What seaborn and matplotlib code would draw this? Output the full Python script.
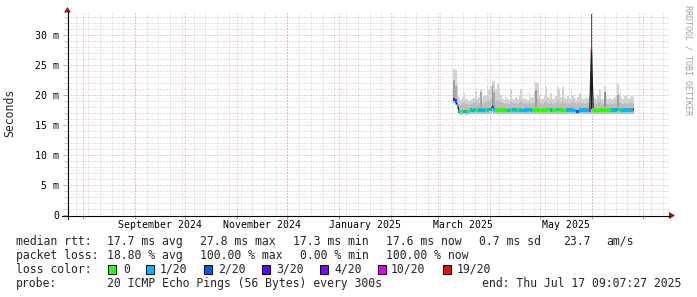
import datetime as dt
import numpy as np
import pandas as pd
import matplotlib
matplotlib.use("Agg")
import matplotlib.pyplot as plt
import matplotlib.dates as mdates
from matplotlib.lines import Line2D
from matplotlib.patches import Rectangle, Polygon
import seaborn as sns

# ---------------- data ----------------
start_day = "2025-03-10"
median_ms = [19.3, 19.0, 18.3, 17.25, 17.2, 17.2, 17.25, 17.2, 17.2, 17.25,
             17.5, 17.45, 17.5, 17.5, 17.45, 17.5, 17.5, 17.45, 17.5, 17.5,
             17.5, 17.55, 17.6, 18.1, 17.6, 17.5, 17.5, 17.45, 17.5, 17.5,
             17.5, 17.5, 17.45, 17.5, 17.5, 17.5, 17.55, 17.5, 17.5, 17.5,
             17.5, 17.45, 17.5, 17.5, 17.5, 17.55, 17.5, 17.5, 17.5, 17.5,
             17.5, 17.5, 17.45, 17.5, 17.5, 17.5, 17.55, 17.5, 17.5, 17.5,
             17.5, 17.5, 17.55, 17.5, 17.5, 17.5, 17.45, 17.5, 17.5, 17.5,
             17.5, 17.5, 17.45, 17.3, 17.3, 17.5, 17.5, 17.5, 17.5, 17.5,
             17.5, 17.5, 27.8, 17.5, 17.5, 17.5, 17.45, 17.5, 17.5, 17.5,
             17.5, 17.5, 17.5, 17.5, 17.5, 17.5, 17.5, 17.5, 17.55, 17.5,
             17.5, 17.5, 17.5, 17.5, 17.5, 17.5, 17.5, 17.6]
loss_level = [3, 2, 1, 1, 0, 0, 1, 1, 0, 0,
              1, 1, 1, 0, 0, 1, 1, 1, 1, 0,
              1, 1, 1, 2, 1, 0, 0, 0, 0, 0,
              0, 0, 1, 1, 0, 1, 1, 1, 0, 1,
              1, 1, 1, 1, 1, 1, 1, 0, 0, 0,
              0, 0, 0, 0, 0, 0, 0, 0, 1, 0,
              0, 0, 1, 0, 0, 0, 0, 1, 1, 1,
              1, 1, 1, 2, 2, 1, 1, 1, 1, 1,
              1, 5, 6, 0, 0, 0, 0, 0, 0, 0,
              0, 0, 0, 0, 1, 1, 1, 1, 1, 0,
              1, 1, 1, 1, 1, 1, 1, 6]
smoke_hi = [24.3, 24.2, 22.0, 19.6, 19.2, 19.5, 20.3, 19.3, 19.4, 19.0,
            19.2, 19.3, 19.5, 20.6, 19.4, 19.6, 21.0, 19.5, 19.8, 20.0,
            21.7, 21.0, 21.5, 22.4, 22.3, 21.0, 21.8, 21.2, 20.0, 19.4,
            19.2, 19.6, 19.3, 19.2, 20.8, 19.4, 19.2, 19.6, 19.3, 20.0,
            21.0, 19.5, 19.3, 19.4, 19.2, 20.3, 19.5, 19.6, 20.5, 22.2,
            22.0, 19.8, 19.4, 19.3, 20.0, 21.3, 19.6, 19.4, 20.3, 19.3,
            19.5, 19.8, 21.4, 21.0, 19.6, 21.3, 19.5, 19.3, 19.8, 19.4,
            20.9, 20.0, 19.5, 19.2, 19.6, 20.3, 19.3, 19.4, 19.3, 19.6,
            19.5, 19.8, 33.5, 19.6, 19.5, 19.4, 20.0, 20.8, 19.5, 19.4,
            21.5, 19.8, 19.3, 19.5, 19.2, 19.4, 19.6, 20.0, 21.8, 20.3,
            19.5, 19.3, 19.8, 19.9, 19.4, 19.5, 19.8, 19.6]
smoke_mid = [22.0, 21.5, 20.0, 18.5, 18.4, 18.6, 18.8, 18.5, 18.6, 18.4,
             18.5, 18.6, 18.7, 19.0, 18.6, 18.7, 19.2, 18.6, 18.7, 18.8,
             19.2, 19.0, 19.3, 19.8, 19.6, 19.0, 19.2, 19.0, 18.8, 18.6,
             18.5, 18.6, 18.5, 18.5, 18.9, 18.6, 18.5, 18.7, 18.5, 18.8,
             19.0, 18.6, 18.5, 18.6, 18.5, 18.8, 18.6, 18.6, 18.9, 19.5,
             19.4, 18.7, 18.6, 18.5, 18.8, 19.0, 18.6, 18.5, 18.8, 18.5,
             18.6, 18.7, 19.1, 18.9, 18.6, 19.0, 18.6, 18.5, 18.7, 18.5,
             18.9, 18.8, 18.6, 18.5, 18.6, 18.8, 18.5, 18.6, 18.5, 18.6,
             18.6, 18.7, 30.0, 18.6, 18.6, 18.5, 18.8, 19.0, 18.6, 18.5,
             19.4, 18.7, 18.5, 18.6, 18.5, 18.5, 18.6, 18.8, 19.3, 18.9,
             18.6, 18.5, 18.7, 18.7, 18.5, 18.6, 18.7, 18.6]
smoke_lo = [18.6, 18.4, 17.6, 16.8, 16.7, 16.7, 16.8, 16.7, 16.7, 16.8,
            16.9, 16.9, 16.9, 16.9, 16.9, 16.9, 16.9, 16.9, 16.9, 16.9,
            16.9, 16.9, 16.9, 17.2, 16.9, 16.9, 16.9, 16.9, 16.9, 16.9,
            16.9, 16.9, 16.9, 16.9, 16.9, 16.9, 16.9, 16.9, 16.9, 16.9,
            16.9, 16.9, 16.9, 16.9, 16.9, 16.9, 16.9, 16.9, 16.9, 16.9,
            16.9, 16.9, 16.9, 16.9, 16.9, 16.9, 16.9, 16.9, 16.9, 16.9,
            16.9, 16.9, 16.9, 16.9, 16.9, 16.9, 16.9, 16.9, 16.9, 16.9,
            16.9, 16.9, 16.9, 16.8, 16.8, 16.9, 16.9, 16.9, 16.9, 16.9,
            16.9, 16.9, 16.9, 16.9, 16.9, 16.9, 16.9, 16.9, 16.9, 16.9,
            16.9, 16.9, 16.9, 16.9, 16.9, 16.9, 16.9, 16.9, 16.9, 16.9,
            16.9, 16.9, 16.9, 16.9, 16.9, 16.9, 16.9, 16.9]
# darker smoke streaks: day index, low, high
dark_day = [0, 1, 16, 23, 24, 49, 90, 98, 82, 82]
dark_lo = [19.4, 19.1, 18.0, 18.3, 18.0, 18.0, 18.0, 18.0, 17.6, 27.8]
dark_hi = [22.5, 21.5, 20.5, 21.5, 20.5, 20.8, 20.5, 20.0, 27.8, 33.5]

loss_labels = ["0", "1/20", "2/20", "3/20", "4/20", "10/20", "19/20"]
loss_colors = ["#26ff00", "#00b8ff", "#0059ff", "#5e00ff", "#7e00ff", "#dd00ff", "#ff0000"]

y_ticks = [0, 5, 10, 15, 20, 25, 30]
y_ticklabels = ["0", "5 m", "10 m", "15 m", "20 m", "25 m", "30 m"]
x_label_months = ["2024-09-01", "2024-11-01", "2025-01-01", "2025-03-01", "2025-05-01"]
x_ticklabels = ["September 2024", "November 2024", "January 2025", "March 2025", "May 2025"]

end_time = dt.datetime(2025, 7, 17, 9, 7, 27)
span_days = 360

# ---------------- figure ----------------
sns.set_theme(style="white")
plt.rcParams["font.family"] = ["DejaVu Sans Mono", "DejaVu Sans"]

W, H = 697, 297
fig = plt.figure(figsize=(W / 100, H / 100), dpi=100, facecolor="white")


def fx(x):
    return x / W


def fy(y):
    return 1 - y / H


ax = fig.add_axes([fx(67), fy(215), fx(670) - fx(67), fy(13) - fy(215)])
ax.set_facecolor("white")
for s in ax.spines.values():
    s.set_visible(False)

t1 = mdates.date2num(end_time)
t0 = t1 - span_days
ax.set_xlim(t0, t1)
ax.set_ylim(0, 33.67)

# grid
minor_col, major_col = "#c4c4c4", "#eaa0a0"
for d in pd.date_range("2024-07-28", "2025-07-17", freq="7D"):
    ax.axvline(mdates.date2num(d), color=minor_col, lw=0.72, ls=(0, (1, 2)), zorder=0)
for v in range(1, 34):
    if v % 5:
        ax.axhline(v, color=minor_col, lw=0.72, ls=(0, (1, 2)), zorder=0)
month_starts = pd.date_range("2024-08-01", "2025-07-01", freq="MS")
for d in month_starts:
    ax.axvline(mdates.date2num(d), color=major_col, lw=0.72, ls=(0, (1, 2)), zorder=1)
for v in y_ticks[1:]:
    ax.axhline(v, color=major_col, lw=0.72, ls=(0, (1, 2)), zorder=1)

# data
days = mdates.date2num(pd.date_range(start_day, periods=len(median_ms), freq="D"))
edges = np.append(days, days[-1] + 1)
lo = np.append(smoke_lo, smoke_lo[-1])
mid = np.append(smoke_mid, smoke_mid[-1])
hi = np.append(smoke_hi, smoke_hi[-1])
ax.fill_between(edges, lo, hi, step="post", color="#d2d2d2", lw=0, zorder=2)
ax.fill_between(edges, lo, mid, step="post", color="#bdbdbd", lw=0, zorder=3)

dark_shade = ["#a0a0a0", "#ababab", "#a6a6a6", "#969696", "#a6a6a6", "#9e9e9e",
              "#929292", "#a0a0a0", "#1c1c1c", "#555555"]
for i, d in enumerate(dark_day):
    ax.bar(days[d], dark_hi[i] - dark_lo[i], bottom=dark_lo[i], width=1, align="edge",
           color=dark_shade[i], lw=0, zorder=4)

sns.lineplot(x=days + 0.5, y=median_ms, color="#202020", lw=0.9, ax=ax, zorder=5)
med = np.array(median_ms)
ax.bar(days, 0.55, bottom=med - 0.275, width=1, align="edge",
       color=[loss_colors[k] for k in loss_level], lw=0, zorder=6)

# ticks
ax.set_yticks(y_ticks)
ax.set_yticklabels(y_ticklabels)
ax.set_yticks(range(0, 34), minor=True)
ax.tick_params(axis="y", which="major", length=3, width=0.7, color="#b0b0b0",
               pad=2.5, labelsize=7.1, labelcolor="black", direction="out", left=True)
ax.tick_params(axis="y", which="minor", length=2, width=0.7, color="#c8c8c8",
               direction="out", left=True)
lab_pos = [mdates.date2num(pd.Timestamp(m) + pd.Timedelta(days=15)) for m in x_label_months]
ax.set_xticks(lab_pos)
ax.set_xticklabels(x_ticklabels)
ax.set_xticks(mdates.date2num(month_starts), minor=True)
ax.tick_params(axis="x", which="major", length=0, pad=3.5, labelsize=7.1, labelcolor="black", bottom=True)
ax.tick_params(axis="x", which="minor", length=3, width=0.7, color="#e08080",
               direction="out", bottom=True)
ax.grid(False)

# axes lines & arrows
fig.add_artist(Line2D([fx(62), fx(670)], [fy(215.5), fy(215.5)], color="black", lw=0.8))
fig.add_artist(Line2D([fx(67.5), fx(67.5)], [fy(219), fy(12)], color="black", lw=0.8))
fig.add_artist(Polygon([(fx(669), fy(212)), (fx(675), fy(215.5)), (fx(669), fy(219))],
                       closed=True, color="#a01010", lw=0))
fig.add_artist(Polygon([(fx(64), fy(12.5)), (fx(67.5), fy(7)), (fx(71), fy(12.5))],
                       closed=True, color="#a01010", lw=0))

fig.text(fx(10), fy(113), "Seconds", rotation=90, ha="center", va="center", fontsize=8.3)
fig.text(fx(688), fy(5), "RRDTOOL / TOBI OETIKER", rotation=270, ha="center", va="top",
         fontsize=6, color="#a0a0a0")

# legend text
fs = 8.3
rows = [
    (245, [(16, "median rtt:"), (107, "17.7 ms avg"), (200, "27.8 ms max"), (293, "17.3 ms min"),
           (386, "17.6 ms now"), (479, "0.7 ms sd"), (563, "23.7"), (606, "am/s")]),
    (259, [(16, "packet loss:"), (107, "18.80 % avg"), (200, "100.00 % max"), (300, "0.00 % min"),
           (386, "100.00 % now")]),
    (273, [(16, "loss color:")]),
    (287, [(16, "probe:"), (107, "20 ICMP Echo Pings (56 Bytes) every 300s")]),
]
for yb, items in rows:
    for x, s in items:
        fig.text(fx(x), fy(yb), s, ha="left", va="baseline", fontsize=fs)
fig.text(fx(681), fy(287), "end: Thu Jul 17 09:07:27 2025", ha="right", va="baseline", fontsize=fs)

box_x = [108, 146, 204, 262, 320, 378, 443]
lab_x = [123, 160, 218, 276, 334, 391, 457]
for i in range(len(loss_labels)):
    fig.add_artist(Rectangle((fx(box_x[i]), fy(273.5)), fx(8), fy(0) - fy(9),
                             facecolor=loss_colors[i], edgecolor="black", lw=0.7))
    fig.text(fx(lab_x[i]), fy(273), loss_labels[i], ha="left", va="baseline", fontsize=fs)

fig.savefig("out.png", dpi=100, facecolor="white")
